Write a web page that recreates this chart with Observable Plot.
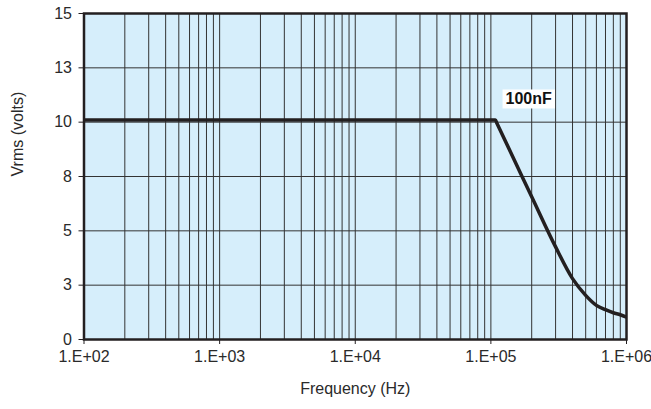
<!DOCTYPE html>
<html>
<head>
<meta charset="utf-8">
<script src="https://cdn.jsdelivr.net/npm/d3@7"></script>
<script src="https://cdn.jsdelivr.net/npm/@observablehq/plot@0.6"></script>
<style>
  html, body { margin: 0; padding: 0; background: #ffffff; }
  #chart { width: 651px; height: 409px; }
  svg { font-family: "Liberation Sans", Arial, Helvetica, sans-serif; }
</style>
</head>
<body>
<div id="chart"></div>
<script>
// Data
const freq = [100, 1000, 10000, 108000, 111000, 200000, 300000, 400000, 500000, 600000, 700000, 800000, 900000, 1000000];
const vrms = [10.1, 10.1, 10.1, 10.1, 9.94, 6.57, 4.26, 2.80, 2.03, 1.57, 1.37, 1.23, 1.14, 1.03];
const xTicks = [1e2, 1e3, 1e4, 1e5, 1e6];
const yTicks = [0, 2.5, 5, 7.5, 10, 12.5, 15];
const decades = [1e2, 1e3, 1e4, 1e5];
const multipliers = [1, 2, 3, 4, 5, 6, 7, 8, 9];
const seriesLabel = "100nF";
const labelPos = {freq: 190000, vrms: 11.05};

const gridX = decades.flatMap(d => multipliers.map(m => d * m)).concat([1e6]);
const line = freq.map((f, i) => ({f, v: vrms[i]}));

const ink = "#231f20";
const textInk = "#2a2a2a";
const fmtX = d => "1.E+" + String(Math.round(Math.log10(d))).padStart(2, "0");

const plot = Plot.plot({
  width: 651,
  height: 409,
  marginLeft: 83.5,
  marginRight: 25,
  marginTop: 13,
  marginBottom: 70,
  style: {fontSize: "16px", fontFamily: "'Liberation Sans', Arial, sans-serif", background: "#ffffff", color: textInk},
  x: {type: "log", domain: [1e2, 1e6]},
  y: {domain: [0, 15]},
  marks: [
    Plot.frame({fill: "#d6eefb", stroke: "none"}),
    Plot.ruleX(gridX, {stroke: "#333333", strokeWidth: 1}),
    Plot.ruleY(yTicks, {stroke: "#333333", strokeWidth: 1}),
    Plot.line(line, {x: "f", y: "v", stroke: ink, strokeWidth: 3.5, curve: "monotone-x", strokeLinejoin: "round", strokeLinecap: "butt"}),
    Plot.frame({stroke: ink, strokeWidth: 2.5}),
    Plot.axisX({ticks: xTicks, tickFormat: fmtX, tickSize: 5, tickPadding: 6, label: null, stroke: ink, fontSize: 16}),
    Plot.axisY({ticks: yTicks, tickFormat: d => String(Math.round(d)), tickSize: 5, tickPadding: 7, label: null, stroke: ink, fontSize: 16}),
    Plot.text([seriesLabel], {x: () => labelPos.freq, y: () => labelPos.vrms, text: d => d, fontWeight: "bold", fontSize: 16, fill: "#111", className: "series-label"}),
    Plot.text(["Frequency (Hz)"], {frameAnchor: "bottom", dy: 54, text: d => d, fontSize: 16, fill: textInk}),
    Plot.text(["Vrms (volts)"], {frameAnchor: "left", dx: -66, rotate: -90, text: d => d, fontSize: 16, fill: textInk})
  ]
});

document.getElementById("chart").appendChild(plot);

// white box behind the series label
const g = plot.querySelector("g.series-label") || plot.querySelector(".series-label");
if (g) {
  const t = g.querySelector("text");
  if (t) {
    const b = t.getBBox();
    const r = document.createElementNS("http://www.w3.org/2000/svg", "rect");
    r.setAttribute("x", b.x - 3);
    r.setAttribute("y", b.y - 1);
    r.setAttribute("width", b.width + 6);
    r.setAttribute("height", b.height + 2);
    r.setAttribute("fill", "#ffffff");
    const tr = t.getAttribute("transform");
    if (tr) r.setAttribute("transform", tr);
    g.insertBefore(r, t);
  }
}
</script>
</body>
</html>
